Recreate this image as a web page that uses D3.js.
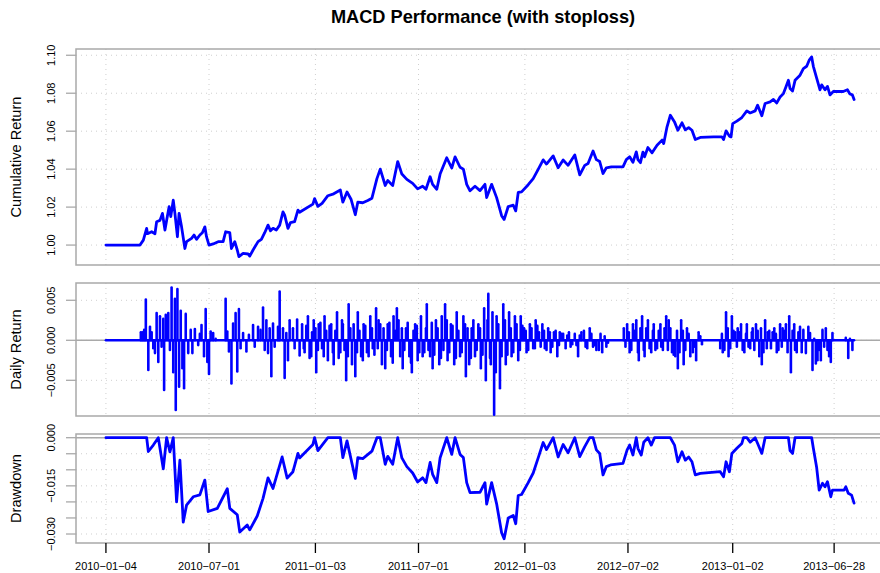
<!DOCTYPE html>
<html>
<head>
<meta charset="utf-8">
<script src="https://cdn.jsdelivr.net/npm/d3@7"></script>
<style>
  body { margin: 0; background: #fff; }
  svg { display: block; font-family: "Liberation Sans", Arial, Helvetica, sans-serif; }
</style>
</head>
<body>
<svg id="chart" width="880" height="573"></svg>
<script>
const title = "MACD Performance (with stoploss)";

// trading-day index of each date label on the x axis
const xTickIndex  = [0, 124, 252, 376, 504, 628, 754, 876];
const xTickLabels = ["2010-01-04", "2010-07-01", "2011-01-03", "2011-07-01",
                     "2012-01-03", "2012-07-02", "2013-01-02", "2013-06-28"];

const cumTicks   = [1.00, 1.02, 1.04, 1.06, 1.08, 1.10];
const dailyTicks = [-0.005, 0, 0.005];
const ddTicks    = [0, -0.005, -0.010, -0.015, -0.020, -0.025, -0.030];
const ddLabelled = [0, -0.015, -0.030];

// [trading-day index, cumulative return]
const cumReturn = [
  [0,1.0],[41,1.0],[45,1.0026],[49,1.0088],[50,1.006],[55,1.007],[59,1.006],[61,1.0123],
  [65,1.013],[68,1.0167],[71,1.0079],[73,1.013],[76,1.0202],[78,1.015],[81,1.0237],[83,1.0167],
  [86,1.0044],[88,1.0167],[91,1.0096],[95,0.9982],[97,1.0018],[103,1.0035],[106,1.0053],
  [109,1.003],[113,1.0053],[116,1.0065],[119,1.0096],[121,1.0044],[124,1.0],[129,1.0006],
  [135,1.0018],[141,1.0018],[144,1.007],[149,1.0065],[151,0.9982],[155,1.0018],[158,0.9974],
  [160,0.9939],[165,0.9956],[171,0.9953],[173,0.9942],[177,0.9974],[183,1.0018],[187,1.003],
  [191,1.0065],[195,1.0105],[198,1.0075],[201,1.0088],[205,1.0079],[209,1.0105],[213,1.0175],
  [215,1.0158],[219,1.0088],[222,1.0118],[227,1.0123],[231,1.0184],[233,1.0173],[249,1.0216],
  [251,1.0245],[255,1.0204],[260,1.022],[267,1.026],[274,1.027],[282,1.029],[285,1.0226],
  [290,1.028],[295,1.024],[300,1.016],[303,1.0226],[309,1.0223],[315,1.0235],[320,1.0247],
  [326,1.035],[330,1.040],[336,1.0314],[339,1.034],[345,1.0314],[351,1.044],[356,1.0374],
  [362,1.0346],[369,1.0325],[375,1.0296],[381,1.031],[385,1.0294],[390,1.036],[393,1.032],
  [398,1.0294],[402,1.0374],[410,1.046],[416,1.0406],[420,1.0465],[426,1.041],[430,1.040],
  [434,1.032],[438,1.0286],[444,1.031],[450,1.0287],[456,1.032],[458,1.025],[464,1.032],
  [470,1.025],[476,1.0155],[479,1.0135],[484,1.0203],[490,1.021],[493,1.018],[496,1.0277],
  [500,1.028],[508,1.0318],[514,1.035],[520,1.0399],[526,1.0449],[530,1.0427],[538,1.047],
  [544,1.0407],[550,1.0448],[556,1.042],[564,1.0475],[570,1.037],[576,1.042],[580,1.043],
  [586,1.0496],[590,1.045],[594,1.044],[598,1.0377],[602,1.0407],[608,1.0412],[622,1.0412],
  [626,1.045],[630,1.0465],[634,1.0436],[638,1.0491],[640,1.045],[643,1.0434],[646,1.049],
  [648,1.0465],[652,1.0514],[657,1.0486],[663,1.0526],[669,1.0553],[671,1.0535],[675,1.0623],
  [679,1.0684],[684,1.0649],[688,1.0605],[693,1.0644],[697,1.0607],[701,1.0619],[705,1.0605],
  [709,1.0556],[715,1.0567],[731,1.057],[741,1.057],[743,1.0556],[746,1.0602],[750,1.0574],
  [752,1.057],[754,1.064],[759,1.0653],[765,1.0672],[771,1.0707],[775,1.0696],[781,1.0707],
  [784,1.0737],[789,1.0681],[793,1.0746],[799,1.0754],[803,1.0767],[807,1.0749],[811,1.078],
  [815,1.0798],[818,1.0833],[821,1.0868],[823,1.0825],[826,1.0812],[829,1.0868],[835,1.0895],
  [839,1.093],[843,1.0942],[846,1.0974],[849,1.0991],[851,1.0942],[855,1.088],[859,1.0818],
  [861,1.0844],[865,1.0818],[868,1.0836],[871,1.0791],[875,1.0809],[887,1.0809],[892,1.0818],
  [895,1.0796],[898,1.0791],[900,1.0767]
];

// [trading-day index, daily return]; days not listed returned 0
const dailyReturn = [
  [42,0.001],[44,0.001],[46,0.0013],[48,0.0051],[51,-0.0037],[53,0.0017],[55,0.001],[57,-0.001],
  [59,-0.0016],[61,0.0034],[63,-0.0027],[65,0.003],[67,-0.0008],[69,0.0027],[70,-0.0062],
  [72,0.0032],[75,0.0034],[77,-0.0012],[79,0.0066],[81,-0.004],[83,0.0052],[84,-0.0087],
  [86,0.0064],[88,-0.0058],[90,0.0037],[92,-0.0035],[94,-0.006],[96,0.0033],[99,-0.0016],
  [102,0.0013],[104,-0.0016],[107,0.0014],[111,-0.0006],[113,0.0008],[115,0.0019],[118,-0.002],
  [120,0.0039],[122,-0.0027],[124,-0.0042],[126,0.0011],[129,0.0009],[132,0.0002],[144,0.0052],
  [146,0.0011],[148,-0.0014],[151,-0.0054],[153,0.0021],[156,0.0034],[158,-0.0039],[160,0.0039],
  [162,-0.001],[165,0.0009],[169,-0.0014],[172,0.0007],[177,0.0019],[179,-0.0008],[183,0.0017],
  [186,0.0013],[189,0.0041],[191,-0.0012],[193,0.0025],[195,-0.0016],[197,0.0015],[199,-0.0045],
  [201,0.0021],[203,-0.0008],[207,0.0017],[209,0.0061],[213,0.0015],[215,-0.0047],[217,0.0009],
  [219,-0.0025],[221,0.0025],[225,0.0015],[227,-0.001],[230,0.0026],[233,-0.0019],
  [236,0.002],[238,-0.001],[239,-0.0015],[241,0.0018],[243,0.003],[245,-0.0022],[247,-0.002],
  [248,0.001],[250,0.0025],[252,0.0015],[253,-0.004],[255,-0.0012],[256,0.002],[258,0.0022],
  [260,-0.001],[262,-0.002],[263,0.003],[265,0.0012],[267,-0.0025],[269,0.0018],[271,0.002],
  [273,-0.0015],[274,-0.003],[276,0.0012],[278,0.0035],[280,-0.0022],[282,-0.0015],[284,0.0025],
  [285,0.002],[287,-0.0012],[289,-0.005],[291,-0.002],[292,0.0045],[294,0.0015],[296,-0.003],
  [298,0.002],[300,-0.0045],[302,-0.0015],[303,0.0035],[305,0.0012],[307,-0.002],[309,-0.0025],
  [310,0.002],[312,0.0018],[314,-0.0015],[316,-0.002],[318,0.003],[320,0.0015],[321,-0.001],
  [323,-0.0018],[325,0.004],[327,-0.001],[328,0.0025],[330,0.002],[332,-0.003],[334,0.0015],
  [336,-0.0035],[338,-0.0012],[339,0.002],[341,0.0022],[343,-0.002],[345,-0.0028],[346,0.003],
  [348,0.0012],[350,0.004],[352,0.0025],[354,-0.002],[356,0.0015],[357,-0.0035],[359,-0.0012],
  [361,0.0015],[363,0.0022],[365,-0.002],[367,-0.0028],[368,-0.004],[370,0.0012],[372,0.002],
  [374,0.0018],[375,-0.0025],[377,-0.0015],[379,0.003],[381,-0.002],[383,-0.0015],[385,0.0015],
  [386,0.0045],[388,-0.0012],[390,-0.002],[392,0.0022],[393,-0.0035],[395,-0.0018],[397,0.0025],
  [399,0.0015],[401,-0.003],[403,-0.0022],[404,0.003],[406,-0.0012],[408,0.0045],[410,0.0025],
  [411,-0.0025],[413,-0.0015],[415,0.002],[417,0.0018],[419,-0.003],[421,-0.0022],[422,0.0035],
  [424,0.0012],[426,-0.002],[428,-0.0015],[430,0.003],[432,0.002],[433,-0.0045],[435,0.0015],
  [437,-0.003],[439,-0.0022],[440,0.0015],[442,0.0025],[444,-0.002],[446,-0.0012],[448,0.002],
  [450,0.0015],[451,-0.0035],[453,-0.0018],[455,0.004],[457,-0.005],[459,0.0025],[460,0.0058],
  [462,-0.0022],[463,-0.003],[465,0.0035],[467,-0.0093],[469,-0.004],[470,0.003],[472,0.002],
  [474,-0.006],[476,-0.002],[478,0.0045],[480,0.0025],[481,-0.003],[483,-0.0018],[485,0.0035],
  [487,0.0015],[488,-0.002],[490,-0.0015],[492,0.003],[494,0.002],[496,-0.0025],[498,-0.0012],
  [499,0.003],[501,0.0018],[503,0.0015],[505,0.0012],[506,-0.0015],[508,-0.0012],[510,0.002],
  [512,0.0015],[514,-0.001],[516,-0.001],[517,0.0025],[519,0.0018],[521,0.001],[523,-0.0008],
  [525,0.002],[527,0.0012],[528,-0.001],[530,-0.0012],[532,0.0015],[534,0.001],[535,-0.0015],
  [537,-0.0008],[539,0.001],[541,0.0012],[543,-0.002],[545,-0.0006],[546,0.001],[548,0.0008],
  [550,0.0008],[553,-0.001],[555,0.0006],[557,0.001],[559,-0.0008],[561,-0.0005],[564,0.0008],
  [566,-0.0006],[568,-0.002],[570,0.0006],[572,0.001],[575,0.0012],[577,-0.0008],[579,-0.001],
  [582,0.0015],[584,0.0008],[586,-0.0008],[588,-0.0006],[590,-0.0012],[593,-0.0012],[595,0.0008],
  [597,-0.0015],[600,0.0005],[602,-0.0008],[604,-0.0003],
  [623,0.0015],[625,-0.0008],[627,0.002],[629,0.001],[630,-0.0015],[632,-0.0012],[634,0.002],
  [636,0.0012],[638,0.0025],[640,-0.0015],[641,-0.0025],[643,0.0015],[645,0.003],[647,-0.0012],
  [648,-0.002],[650,0.0015],[652,0.0025],[654,-0.001],[656,-0.0015],[658,0.0012],[659,0.002],
  [661,-0.0012],[663,-0.001],[665,0.0012],[667,0.002],[668,-0.0008],[670,-0.0012],[672,0.0015],
  [674,0.003],[676,-0.0012],[677,0.0025],[679,0.0015],[681,-0.0015],[683,-0.0018],[685,-0.002],
  [687,0.0012],[688,-0.0035],[690,-0.0015],[692,0.0025],[694,0.0012],[695,-0.003],[697,-0.0012],
  [699,0.0015],[701,0.0008],[703,-0.002],[706,-0.0015],[708,-0.0008],[710,-0.0025],[713,0.001],
  [715,0.0005],[717,-0.0005],
  [739,-0.001],[741,0.0008],[742,-0.0015],[744,-0.0012],[746,0.0035],[748,0.0015],[749,-0.002],
  [751,-0.001],[753,0.003],[755,0.0012],[757,0.001],[759,-0.0008],[760,0.0015],[762,0.001],
  [764,0.002],[766,-0.0012],[768,-0.0015],[770,0.0008],[771,0.002],[773,-0.0008],[775,-0.001],
  [777,0.001],[778,0.0015],[780,-0.0012],[782,0.002],[784,0.0012],[786,-0.002],[788,0.0015],
  [789,-0.003],[791,-0.0015],[793,0.0025],[795,-0.001],[796,0.001],[798,0.0012],[800,-0.001],
  [802,0.001],[804,0.0015],[806,0.0008],[807,-0.0015],[809,-0.0012],[811,0.002],[813,-0.0008],
  [814,0.0015],[816,0.0012],[818,0.002],[820,-0.0015],[822,0.003],[824,-0.004],[826,0.0012],
  [828,0.002],[829,-0.0012],[831,-0.0015],[833,0.001],
  [835,0.0017],[837,-0.0015],[839,0.0013],[842,-0.0016],[845,0.0017],[847,0.0009],[850,-0.0037],
  [852,0.0002],[854,-0.0029],[856,-0.0025],[858,-0.0012],[860,-0.0025],[862,0.0013],[864,-0.0008],
  [866,0.0015],[868,-0.0012],[870,-0.002],[872,-0.0027],[874,0.0009],[890,0.0003],[893,-0.0022],
  [895,0.0002],[898,-0.0012]
];

// [trading-day index, drawdown]
const drawdown = [
  [0,0],[49,0],[51,-0.0043],[57,-0.0023],[63,0],[69,-0.0097],[73,0],[77,-0.0044],[81,0],
  [85,-0.020],[89,-0.007],[93,-0.0263],[97,-0.021],[105,-0.0184],[113,-0.0178],[119,-0.0132],
  [123,-0.023],[134,-0.022],[146,-0.0159],[149,-0.022],[158,-0.024],[161,-0.0294],[170,-0.0272],
  [173,-0.0287],[182,-0.0244],[189,-0.0189],[195,-0.0125],[201,-0.0158],[212,-0.006],
  [218,-0.0126],[225,-0.0106],[231,-0.0049],[233,-0.0063],[249,-0.0021],[251,0],[255,-0.004],
  [267,0],[274,0],[282,0],[285,-0.0062],[290,-0.001],[300,-0.0127],[303,-0.0062],[309,-0.0065],
  [320,-0.0042],[326,0],[330,0],[336,-0.0083],[339,-0.0058],[345,-0.0083],[351,0],[356,-0.0063],
  [362,-0.009],[369,-0.011],[375,-0.0138],[381,-0.0125],[385,-0.014],[390,-0.0077],[393,-0.0114],
  [398,-0.014],[402,-0.0063],[410,0],[416,-0.0052],[420,0],[426,-0.0052],[430,-0.0062],
  [434,-0.014],[438,-0.0171],[450,-0.017],[456,-0.014],[458,-0.0207],[464,-0.014],[470,-0.0206],
  [476,-0.0296],[479,-0.0315],[484,-0.025],[490,-0.0242],[493,-0.0268],[496,-0.018],[500,-0.0177],
  [508,-0.014],[514,-0.011],[520,-0.0063],[526,-0.0015],[530,-0.0037],[538,0],[544,-0.006],
  [550,-0.0021],[556,-0.0047],[564,0],[570,-0.0059],[576,-0.0028],[582,0],[586,0],[590,-0.0038],
  [594,-0.0049],[598,-0.0116],[602,-0.009],[607,-0.0085],[622,-0.008],[627,-0.0038],
  [630,-0.0023],[634,-0.0054],[638,0],[640,-0.0033],[644,-0.0054],[647,-0.0014],[652,0],
  [656,-0.0023],[660,0],[666,0],[675,0],[679,0],[684,-0.0023],[688,-0.0075],[693,-0.0044],
  [697,-0.007],[701,-0.006],[705,-0.0075],[709,-0.0116],[715,-0.0111],[739,-0.0106],
  [743,-0.0122],[746,-0.0075],[750,-0.0106],[753,-0.0049],[759,-0.0033],[765,-0.0018],[767,0],
  [771,0],[775,-0.0014],[781,0],[784,-0.0018],[789,-0.0049],[793,0],[799,0],[821,0],[823,-0.004],
  [826,-0.0049],[829,0],[835,0],[849,0],[851,-0.0033],[855,-0.0093],[858,-0.0163],[862,-0.0142],
  [865,-0.0153],[868,-0.0137],[872,-0.0184],[874,-0.0163],[888,-0.0163],[890,-0.0153],
  [893,-0.0173],[897,-0.0179],[900,-0.0204]
];

// ── Layout ────────────────────────────────────────────────────────────────────

const svg = d3.select("#chart");
const frame = "#a9a9a9";
const blue = "#0000ff";

const x = d3.scaleLinear().domain([-36, 936]).range([76, 884]);

const panels = [
  { name: "Cumulative Return", top: 49,  bottom: 265, domain: [0.9895, 1.1033],   ticks: cumTicks,   labelled: cumTicks,   fmt: d3.format(".2f") },
  { name: "Daily Return",      top: 283, bottom: 416, domain: [-0.00946, 0.00716], ticks: dailyTicks, labelled: dailyTicks, fmt: d3.format(".3f") },
  { name: "Drawdown",          top: 434, bottom: 543, domain: [-0.0328, 0.00115],  ticks: ddTicks,    labelled: ddLabelled, fmt: d3.format(".3f") }
];
panels.forEach(p => { p.y = d3.scaleLinear().domain(p.domain).range([p.bottom, p.top]); });

svg.append("text")
  .attr("x", 483).attr("y", 22.5)
  .attr("text-anchor", "middle")
  .attr("font-size", 18.2).attr("font-weight", "bold")
  .text(title);

function drawFrame(p) {
  const g = svg.append("g");
  const [x0, x1] = x.range();

  // dotted grid
  g.selectAll(".hgrid").data(p.ticks).join("line")
    .attr("x1", x0).attr("x2", x1)
    .attr("y1", d => p.y(d)).attr("y2", d => p.y(d))
    .attr("stroke", "#cfcfcf").attr("stroke-width", 1).attr("stroke-dasharray", "1,4");
  g.selectAll(".vgrid").data(xTickIndex).join("line")
    .attr("x1", d => x(d)).attr("x2", d => x(d))
    .attr("y1", p.top).attr("y2", p.bottom)
    .attr("stroke", "#cfcfcf").attr("stroke-width", 1).attr("stroke-dasharray", "1,4");

  // y ticks and labels
  g.selectAll(".ytick").data(p.ticks).join("line")
    .attr("x1", 66).attr("x2", x0)
    .attr("y1", d => p.y(d)).attr("y2", d => p.y(d))
    .attr("stroke", frame).attr("stroke-width", 1.3);
  g.selectAll(".ylab").data(p.labelled).join("text")
    .attr("transform", d => `translate(55,${p.y(d)}) rotate(-90)`)
    .attr("text-anchor", "middle")
    .attr("font-size", 11).attr("fill", "#000")
    .text(d => p.fmt(d));

  g.append("text")
    .attr("transform", `translate(21,${(p.top + p.bottom) / 2}) rotate(-90)`)
    .attr("text-anchor", "middle")
    .attr("font-size", 14.6)
    .text(p.name);

  return g;
}

function drawBox(p) {
  svg.append("rect")
    .attr("x", x.range()[0]).attr("y", p.top)
    .attr("width", x.range()[1] - x.range()[0]).attr("height", p.bottom - p.top)
    .attr("fill", "none").attr("stroke", frame).attr("stroke-width", 1.5);
}

// ── Cumulative return ─────────────────────────────────────────────────────────

const pc = panels[0];
drawFrame(pc);
drawBox(pc);
svg.append("path")
  .datum(cumReturn)
  .attr("fill", "none").attr("stroke", blue).attr("stroke-width", 2.8)
  .attr("stroke-linejoin", "round").attr("stroke-linecap", "round")
  .attr("d", d3.line().x(d => x(d[0])).y(d => pc.y(d[1])));

// ── Daily return ──────────────────────────────────────────────────────────────

const pd = panels[1];
drawFrame(pd);
drawBox(pd);
svg.append("line")
  .attr("x1", x.range()[0]).attr("x2", x.range()[1])
  .attr("y1", pd.y(0)).attr("y2", pd.y(0))
  .attr("stroke", frame).attr("stroke-width", 1.5);
const span = d3.extent(cumReturn, d => d[0]);
svg.append("line")
  .attr("x1", x(span[0])).attr("x2", x(span[1]))
  .attr("y1", pd.y(0)).attr("y2", pd.y(0))
  .attr("stroke", blue).attr("stroke-width", 2.6).attr("stroke-linecap", "round");
svg.append("g").selectAll("line").data(dailyReturn).join("line")
  .attr("x1", d => x(d[0])).attr("x2", d => x(d[0]))
  .attr("y1", pd.y(0)).attr("y2", d => pd.y(d[1]))
  .attr("stroke", blue).attr("stroke-width", 2.6).attr("stroke-linecap", "round");

// ── Drawdown ──────────────────────────────────────────────────────────────────

const pw = panels[2];
drawFrame(pw);
drawBox(pw);
svg.append("line")
  .attr("x1", x.range()[0]).attr("x2", x.range()[1])
  .attr("y1", pw.y(0)).attr("y2", pw.y(0))
  .attr("stroke", frame).attr("stroke-width", 1.5);
svg.append("path")
  .datum(drawdown)
  .attr("fill", "none").attr("stroke", blue).attr("stroke-width", 2.8)
  .attr("stroke-linejoin", "round").attr("stroke-linecap", "round")
  .attr("d", d3.line().x(d => x(d[0])).y(d => pw.y(d[1])));

// x axis (bottom panel only)
const xa = svg.append("g");
xa.selectAll("line").data(xTickIndex).join("line")
  .attr("x1", d => x(d)).attr("x2", d => x(d))
  .attr("y1", pw.bottom).attr("y2", pw.bottom + 10)
  .attr("stroke", "#000").attr("stroke-width", 1.3);
xa.selectAll("text").data(xTickIndex).join("text")
  .attr("x", d => x(d)).attr("y", 570)
  .attr("text-anchor", "middle").attr("font-size", 11)
  .text((d, i) => xTickLabels[i].replace(/-/g, "\u2212"));
</script>
</body>
</html>
